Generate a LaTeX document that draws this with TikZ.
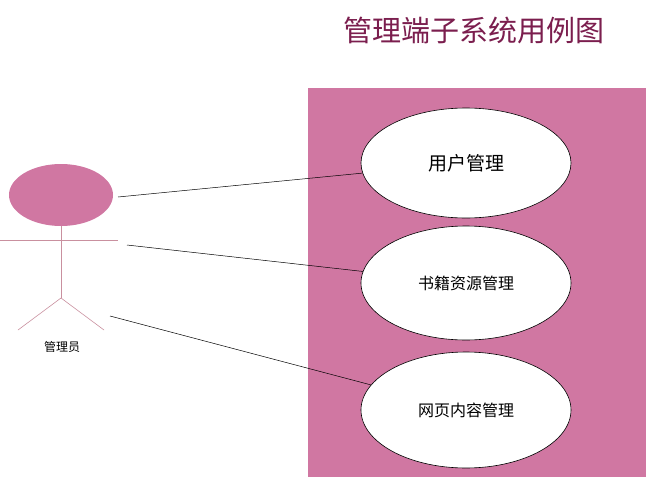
\documentclass[tikz,border=0pt]{standalone}
\usepackage{fontspec}
\setmainfont{Noto Sans CJK SC}
\usetikzlibrary{shapes.geometric}
\definecolor{pinkbg}{HTML}{D077A2}
\definecolor{titlec}{HTML}{7B1E4E}
\definecolor{actc}{HTML}{C9909F}
\begin{document}
\begin{tikzpicture}[x=1pt,y=-1pt,
  usecase/.style={ellipse,draw=black,fill=white,line width=0.6pt},
  conn/.style={draw=black,line width=0.5pt},
  actline/.style={draw=actc,line width=0.6pt}]
\useasboundingbox (0,0) rectangle (646,477);
\node[text=titlec,font=\fontsize{29}{32}\selectfont] (title) at (474,30) {管理端子系统用例图};
\fill[pinkbg] (308,88) rectangle (646,477);
\node[usecase,minimum width=210pt,minimum height=110pt,font=\fontsize{19}{22}\selectfont] (u1) at (466,163) {用户管理};
\node[usecase,minimum width=210pt,minimum height=114pt,font=\fontsize{16}{19}\selectfont] (u2) at (466,283) {书籍资源管理};
\node[usecase,minimum width=210pt,minimum height=116pt,font=\fontsize{16}{19}\selectfont] (u3) at (466,410) {网页内容管理};
% actor
\node[ellipse,fill=pinkbg,minimum width=104pt,minimum height=62pt,inner sep=0] (head) at (61,195) {};
\coordinate (armL) at (0,240);
\coordinate (armR) at (118,240);
\coordinate (neck) at (61,226);
\coordinate (hip) at (61,298);
\coordinate (legL) at (18,330);
\coordinate (legR) at (104,330);
\draw[actline] (armL) -- (armR);
\draw[actline] (neck) -- (hip);
\draw[actline] (legL) -- (hip) -- (legR);
\node[font=\fontsize{12}{14}\selectfont] (actor) at (62,347) {管理员};
\coordinate (a1) at (118,197);
\coordinate (a2) at (127,245);
\coordinate (a3) at (110,316);
\draw[conn] (a1) -- (u1);
\draw[conn] (a2) -- (u2);
\draw[conn] (a3) -- (u3);
\end{tikzpicture}
\end{document}
